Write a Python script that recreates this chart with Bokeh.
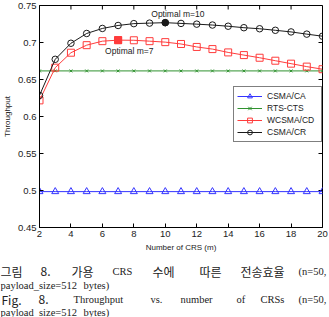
import math
from bokeh.plotting import figure
from bokeh.models import Legend, LegendItem, Range1d, FixedTicker
from bokeh.layouts import column
from bokeh.embed import file_html
from bokeh.resources import INLINE
from bokeh.core.properties import value

# Number of CRS (m)
m = [2, 3, 4, 5, 6, 7, 8, 9, 10, 11, 12, 13, 14, 15, 16, 17, 18, 19, 20]

# Throughput of each MAC scheme
csma_ca = [0.4985, 0.4985, 0.4985, 0.4985, 0.4985, 0.4985, 0.4985, 0.4985, 0.4985, 0.4985,
           0.4985, 0.4985, 0.4985, 0.4985, 0.4985, 0.4985, 0.4985, 0.4985, 0.4985]
rts_cts = [0.6616, 0.6616, 0.6616, 0.6616, 0.6616, 0.6616, 0.6616, 0.6616, 0.6616, 0.6616,
           0.6616, 0.6616, 0.6616, 0.6616, 0.6616, 0.6616, 0.6616, 0.6616, 0.6616]
wcsma_cd = [0.6218, 0.6660, 0.6862, 0.6964, 0.7018, 0.7032, 0.7030, 0.7018, 0.7005, 0.6980,
            0.6940, 0.6911, 0.6866, 0.6830, 0.6794, 0.6754, 0.6714, 0.6674, 0.6639]
csma_cr = [0.6285, 0.6773, 0.6990, 0.7122, 0.7190, 0.7230, 0.7255, 0.7262, 0.7268, 0.7258,
           0.7248, 0.7236, 0.7220, 0.7200, 0.7186, 0.7165, 0.7143, 0.7113, 0.7085]

series_names = ["CSMA/CA", "RTS-CTS", "WCSMA/CD", "CSMA/CR"]

x_ticks = [2, 4, 6, 8, 10, 12, 14, 16, 18, 20]
y_ticks = [0.45, 0.5, 0.55, 0.6, 0.65, 0.7, 0.75]
y_tick_labels = ["0.45", "0.5", "0.55", "0.6", "0.65", "0.7", "0.75"]

SANS = "Liberation Sans"
SERIF = "Liberation Serif"
CJK = "Noto Sans CJK KR"

BLUE = "#3434ff"
GREEN = "#2f922f"
RED = "#ff3c3c"
BLACK = "#1a1a1a"

x_lo, x_hi = x_ticks[0], x_ticks[-1]
y_lo, y_hi = y_ticks[0], y_ticks[-1]

p = figure(width=329, height=254, x_range=Range1d(x_lo, x_hi), y_range=Range1d(y_lo, y_hi),
           output_backend="svg", toolbar_location=None,
           min_border_left=37, min_border_right=7, min_border_top=5, min_border_bottom=25,
           background_fill_color="white", border_fill_color="white")
p.frame_align = False
p.xgrid.visible = False
p.ygrid.visible = False
p.outline_line_color = "black"

for ax in p.xaxis:
    ax.ticker = FixedTicker(ticks=x_ticks)
for ax in p.yaxis:
    ax.ticker = FixedTicker(ticks=y_ticks)
    ax.major_label_overrides = {t: s for t, s in zip(y_ticks, y_tick_labels)}

p.xaxis.axis_label = "Number of CRS (m)"
p.yaxis.axis_label = "Throughput"
for ax in p.xaxis + p.yaxis:
    ax.major_tick_in = 4
    ax.major_tick_out = 0
    ax.minor_tick_in = 0
    ax.minor_tick_out = 0
    ax.axis_line_color = "black"
    ax.major_tick_line_color = "black"
    ax.major_label_text_font = SANS
    ax.major_label_text_font_size = "9.5px"
    ax.major_label_text_color = "#222222"
    ax.major_label_standoff = 3
    ax.axis_label_text_font = SANS
    ax.axis_label_text_font_size = "8px"
    ax.axis_label_text_font_style = "normal"
    ax.axis_label_text_color = "#222222"
    ax.axis_label_standoff = 3

# inward ticks on the right and top edges of the box
p.ray(x=[x_hi] * len(y_ticks), y=y_ticks, length=4, length_units="screen",
      angle=math.pi, line_color="black", line_width=1)
p.ray(x=x_ticks, y=[y_hi] * len(x_ticks), length=4, length_units="screen",
      angle=-math.pi / 2, line_color="black", line_width=1)

l_ca = p.line(m, csma_ca, line_color=BLUE, line_width=1)
s_ca = p.scatter(m, csma_ca, marker="triangle", size=7, line_color=BLUE, fill_color=None)
l_rts = p.line(m, rts_cts, line_color=GREEN, line_width=1)
s_rts = p.scatter(m, rts_cts, marker="x", size=4, line_color=GREEN)
l_cd = p.line(m, wcsma_cd, line_color=RED, line_width=1)
s_cd = p.scatter(m, wcsma_cd, marker="square", size=7, line_color=RED, fill_color=None)
l_cr = p.line(m, csma_cr, line_color=BLACK, line_width=1)
s_cr = p.scatter(m, csma_cr, marker="circle", size=6.5, line_color=BLACK, fill_color=None)

# optimal points (maximum throughput)
i_cr = max(range(len(m)), key=lambda i: csma_cr[i])
i_cd = max(range(len(m)), key=lambda i: wcsma_cd[i])
p.scatter([m[i_cr]], [csma_cr[i_cr]], marker="circle", size=6.5, line_color=BLACK, fill_color=BLACK)
p.scatter([m[i_cd]], [wcsma_cd[i_cd]], marker="square", size=7, line_color=RED, fill_color=RED)
p.text([m[i_cr]], [csma_cr[i_cr]], text=[f"Optimal m={m[i_cr]}"], x_offset=-14, y_offset=-9,
       text_baseline="middle", text_align="left", text_font=value(SANS),
       text_font_size="8.5px", text_color="#222222")
p.text([m[i_cd]], [wcsma_cd[i_cd]], text=[f"Optimal m={m[i_cd]}"], x_offset=-13, y_offset=11,
       text_baseline="middle", text_align="left", text_font=value(SANS),
       text_font_size="8.5px", text_color="#222222")

legend = Legend(items=[
    LegendItem(label=series_names[0], renderers=[l_ca, s_ca]),
    LegendItem(label=series_names[1], renderers=[l_rts, s_rts]),
    LegendItem(label=series_names[2], renderers=[l_cd, s_cd]),
    LegendItem(label=series_names[3], renderers=[l_cr, s_cr]),
], location=(194, 85))
legend.border_line_color = "black"
legend.border_line_width = 1
legend.background_fill_color = "white"
legend.background_fill_alpha = 1
legend.label_text_font = SANS
legend.label_text_font_size = "8.5px"
legend.label_text_color = "#222222"
legend.glyph_width = 25
legend.glyph_height = 12
legend.label_height = 12
legend.label_width = 51
legend.label_standoff = 5
legend.padding = 3
legend.spacing = 0
legend.margin = 0
p.add_layout(legend, "center")

# figure caption
cap = figure(width=329, height=63, x_range=Range1d(0, 329), y_range=Range1d(63, 0),
             output_backend="svg", toolbar_location=None, x_axis_type=None, y_axis_type=None,
             min_border=0, background_fill_color="white", border_fill_color="white")
cap.frame_align = False
cap.outline_line_color = None

caption_words = [
    # (text, x, baseline y, font, size)
    ("그림", 0, 17, CJK, "12px"), ("8.", 40, 17, CJK, "12px"), ("가용", 71, 17, CJK, "12px"),
    ("CRS", 112, 17, SERIF, "10.5px"), ("수에", 152, 17, CJK, "12px"), ("따른", 199, 17, CJK, "12px"),
    ("전송효율", 240, 17, CJK, "12px"), ("(n=50,", 298, 17, SERIF, "10.5px"),
    ("payload_size=512", 0, 31, SERIF, "10.5px"), ("bytes)", 83, 31, SERIF, "10.5px"),
    ("Fig.", 1, 45, CJK, "12px"), ("8.", 38, 45, CJK, "12px"), ("Throughput", 73, 45, SERIF, "10.5px"),
    ("vs.", 150, 45, SERIF, "10.5px"), ("number", 180, 45, SERIF, "10.5px"), ("of", 236, 45, SERIF, "10.5px"),
    ("CRSs", 260, 45, SERIF, "10.5px"), ("(n=50,", 298, 45, SERIF, "10.5px"),
    ("payload_size=512", 0, 58, SERIF, "10.5px"), ("bytes)", 83, 58, SERIF, "10.5px"),
]
for txt, x, y, font, size in caption_words:
    cap.text([x], [y], text=[txt], text_font=value(font), text_font_size=size,
             text_align="left", text_baseline="alphabetic", text_color="#222222")

layout = column(p, cap, spacing=0)
open("out.html", "w").write(file_html(layout, INLINE))
